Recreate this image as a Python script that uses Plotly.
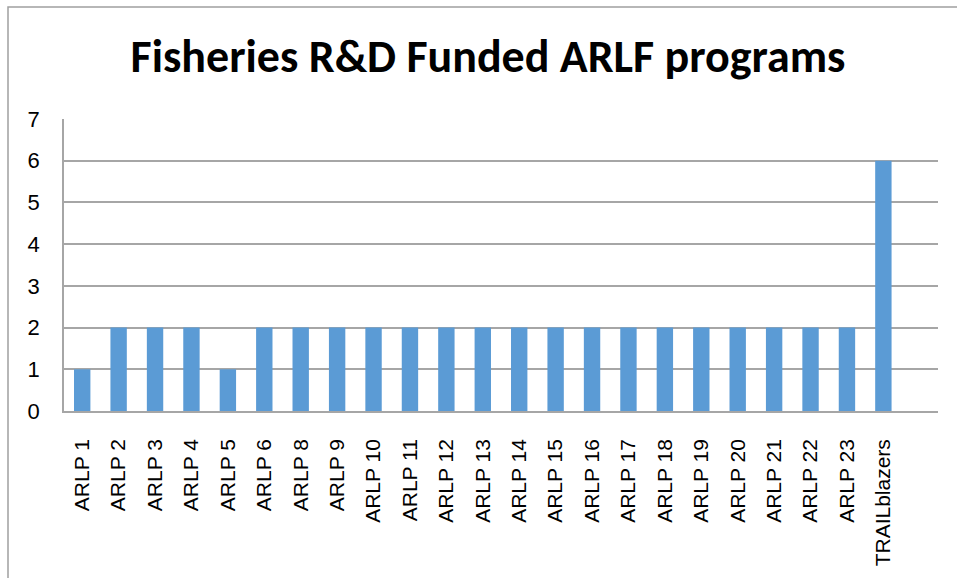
import plotly.graph_objects as go

categories = ["ARLP 1", "ARLP 2", "ARLP 3", "ARLP 4", "ARLP 5", "ARLP 6", "ARLP 8",
              "ARLP 9", "ARLP 10", "ARLP 11", "ARLP 12", "ARLP 13", "ARLP 14",
              "ARLP 15", "ARLP 16", "ARLP 17", "ARLP 18", "ARLP 19", "ARLP 20",
              "ARLP 21", "ARLP 22", "ARLP 23", "TRAILblazers"]
values = [1, 2, 2, 2, 1, 2, 2, 2, 2, 2, 2, 2, 2, 2, 2, 2, 2, 2, 2, 2, 2, 2, 6]
y_ticks = [0, 1, 2, 3, 4, 5, 6, 7]
title_text = "Fisheries R&D Funded ARLF programs"

W, H = 957, 578
L, R, T, B = 64, 19, 119, 167
pw, ph = W - L - R, H - T - B

def px_x(p):
    return (p - L) / pw

def px_y(p):
    return (H - B - p) / ph

fig = go.Figure()
fig.add_trace(go.Bar(
    x=list(range(len(categories))),
    y=values,
    marker=dict(color="#5b9bd5", line=dict(width=0)),
    width=0.45,
    hoverinfo="x+y",
))

fig.update_layout(
    width=W, height=H,
    margin=dict(l=L, r=R, t=T, b=B, pad=0, autoexpand=False),
    paper_bgcolor="white", plot_bgcolor="white",
    showlegend=False,
    title=dict(text="<b>" + title_text + "</b>", x=(488) / W, xanchor="center",
               y=1 - 56 / H, yanchor="middle",
               font=dict(family="Carlito, Lato, sans-serif", size=46, color="black")),
    font=dict(family="Liberation Sans, Arial, sans-serif", size=21, color="black"),
    xaxis=dict(
        range=[-0.5, len(categories) + 0.5],
        tickmode="array",
        tickvals=list(range(len(categories))),
        ticktext=categories,
        tickangle=-90,
        showgrid=False,
        showline=True, linecolor="#a6a6a6", linewidth=1.5,
        ticks="", ticklabelstandoff=18,
        zeroline=False, automargin=False,
        fixedrange=True,
    ),
    yaxis=dict(
        range=[0, 7],
        tickmode="array",
        tickvals=y_ticks,
        showgrid=True, gridcolor="#a6a6a6", gridwidth=1.5,
        showline=True, linecolor="#a6a6a6", linewidth=1.5,
        ticks="", ticklabelstandoff=18,
        tickfont=dict(size=22),
        zeroline=False, automargin=False,
        fixedrange=True,
    ),
    shapes=[
        dict(type="rect", xref="paper", yref="paper",
             x0=px_x(8), x1=px_x(W + 5), y0=px_y(H + 5), y1=px_y(7),
             line=dict(color="#a0a0a0", width=1.5), fillcolor="rgba(0,0,0,0)",
             layer="below"),
    ],
)

fig.write_html("out.html",
               config={"displayModeBar": False},
               post_script="document.body.style.margin='0';document.body.style.overflow='hidden';")
